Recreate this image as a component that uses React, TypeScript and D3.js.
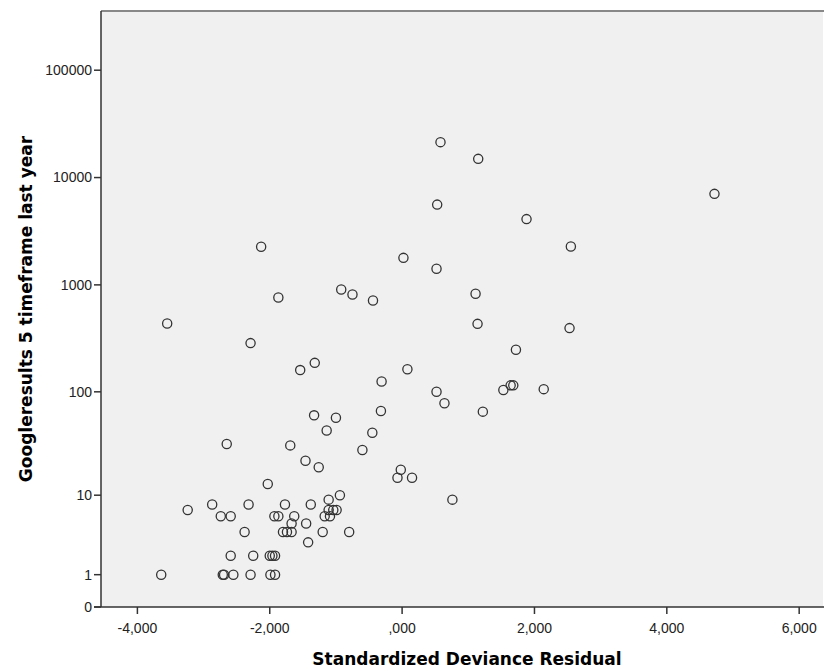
import React from "react";
import * as d3 from "d3";

// Standardized deviance residual (x) and Googleresults 5 timeframe last year (y)
const residuals: number[] = [
  -2.13, 0.02, -0.92, -0.75, -0.44, -1.87, -3.55, -2.29,
  0.58, 1.15, 4.72, 0.53, 1.88, 2.55, 0.52, 1.11, 1.14, 2.53, 1.72,
  -1.32, -1.54, 0.08, -0.31, -0.32, -1.33, -1.0, -1.14, -0.45,
  -2.65, -1.69, -0.6, -1.46, -1.26, -0.02, -0.07, 0.15, -2.03,
  -0.94, -1.11, -2.87, -2.32, -1.77, -1.38, -3.24, -1.11, -1.04, -0.99,
  -2.74, -2.59, -1.93, -1.87, -1.63, -1.17, -1.09,
  -1.67, -1.45,
  -2.38, -1.8, -1.74, -1.67, -1.2, -0.8,
  -1.42,
  -2.59, -2.25, -2.0, -1.96, -1.92,
  -3.64, -2.71, -2.69, -2.55, -2.29, -1.99, -1.92,
  0.52, 0.64, 1.22, 1.53, 1.64, 1.68, 2.14, 0.76,
];
const googleResults: number[] = [
  2264, 1786, 905, 813, 715, 763, 436, 286,
  21380, 14930, 7050, 5600, 4100, 2279, 1412, 826, 433, 395, 248,
  187, 160, 163, 125, 66, 60, 57, 43, 41,
  32, 31, 28, 22, 19, 18, 15, 15, 13,
  10, 9, 8, 8, 8, 8, 7, 7, 7, 7,
  6, 6, 6, 6, 6, 6, 6,
  5, 5,
  4, 4, 4, 4, 4, 4,
  3,
  2, 2, 2, 2, 2,
  1, 1, 1, 1, 1, 1, 1,
  100, 78, 65, 104, 115, 115, 106, 9,
];

const xTicks: number[] = [-4, -2, 0, 2, 4, 6];
const yTicks: number[] = [0, 1, 10, 100, 1000, 10000, 100000];
const xTitle = "Standardized Deviance Residual";
const yTitle = "Googleresults 5 timeframe last year";

const W = 824;
const H = 671;
const left = 101;
const right = 823;
const top = 11;
const bottom = 607;

const fmtX = (v: number) => {
  let s = d3.format(".3f")(v);
  if (s.startsWith("0.")) s = s.slice(1);
  return s.replace(".", ",").replace("\u2212", "-");
};

export default function App() {
  const x = d3.scaleLinear().domain([-4.55, 6.36]).range([left, right]);
  const y = d3.scaleSymlog().constant(1).domain([0, 356000]).range([bottom, top]);
  const font = "'Liberation Sans', Arial, sans-serif";
  const titleFont = "'DejaVu Sans', Verdana, sans-serif";
  const pts = residuals.map((r, i) => ({ r, g: googleResults[i] }));

  return (
    <div style={{ position: "fixed", left: 0, top: 0 }}>
      <svg width={W} height={H} style={{ display: "block", background: "#fff" }}>
        <rect x={left} y={top} width={right - left} height={bottom - top} fill="#f0f0f0" />
        <line x1={left} x2={W} y1={top} y2={top} stroke="#888" strokeWidth={2} />
        {pts.map((p, i) => (
          <circle key={i} cx={x(p.r)} cy={y(p.g)} r={4.6} fill="none" stroke="#333" strokeWidth={1.3} />
        ))}
        <line x1={left} x2={left} y1={top} y2={bottom} stroke="#333" strokeWidth={1.5} />
        <line x1={left - 7} x2={W} y1={bottom} y2={bottom} stroke="#333" strokeWidth={1.5} />
        {yTicks.map((t) => (
          <g key={t}>
            <line x1={left - 7} x2={left} y1={y(t)} y2={y(t)} stroke="#333" strokeWidth={1.5} />
            <text x={left - 9} y={y(t)} dy="0.35em" textAnchor="end" fontFamily={font} fontSize={14} fill="#222">
              {String(t)}
            </text>
          </g>
        ))}
        {xTicks.map((t) => (
          <g key={t}>
            <line x1={x(t)} x2={x(t)} y1={bottom} y2={bottom + 7} stroke="#333" strokeWidth={1.5} />
            <text x={x(t)} y={bottom + 26} textAnchor="middle" fontFamily={font} fontSize={14} fill="#222">
              {fmtX(t)}
            </text>
          </g>
        ))}
        <text x={467} y={665} textAnchor="middle" fontFamily={titleFont} fontSize={17} fontWeight="bold" fill="#000">
          {xTitle}
        </text>
        <text transform={`translate(32,${(top + bottom) / 2}) rotate(-90)`} textAnchor="middle" fontFamily={titleFont} fontSize={17} fontWeight="bold" fill="#000">
          {yTitle}
        </text>
      </svg>
    </div>
  );
}
